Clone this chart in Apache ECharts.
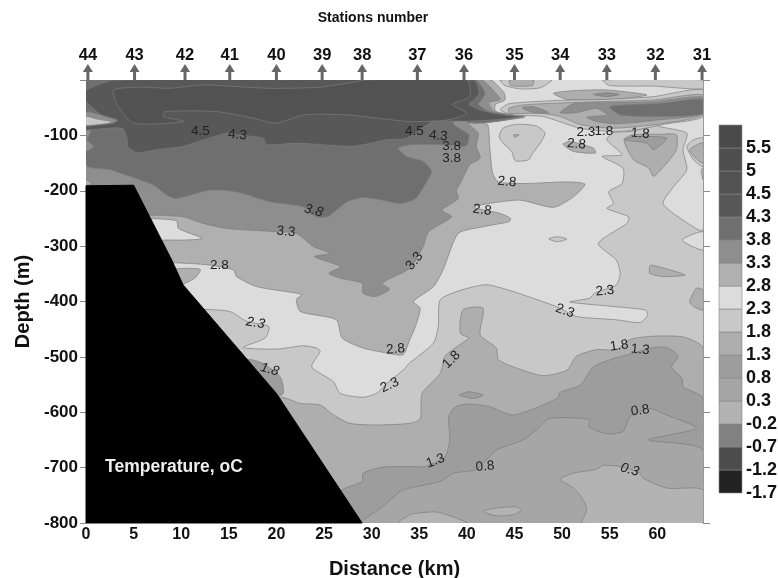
<!DOCTYPE html>
<html><head><meta charset="utf-8">
<style>html,body{margin:0;padding:0;background:#fff}#c{width:778px;height:578px}</style>
<script src="https://cdn.jsdelivr.net/npm/echarts@6/dist/echarts.min.js"></script>
</head><body><div id="c"></div>
<script>
// Legend, bottom to top: boundary labels and band greys
const legendLabels = ['-1.7','-1.2','-0.7','-0.2','0.3','0.8','1.3','1.8','2.3','2.8','3.3','3.8','4.3','4.5','5','5.5'];
const bandColors = ['#222222','#4c4c4c','#818181','#b3b3b3','#a6a6a6','#9d9d9d','#aeaeae','#c8c8c8','#dcdcdc','#b0b0b0','#8e8e8e','#6f6f6f','#585858','#525252','#4e4e4e','#4a4a4a'];

// Stations: [number, distance km]
const stationNumbers = [44,43,42,41,40,39,38,37,36,35,34,33,32,31];
const stationKm = [0.2,5.1,10.4,15.1,20,24.8,29,34.8,39.7,45,49.8,54.7,59.8,64.7];

// Contour regions, as [km, depth m]
const fieldAll = [[0,0],[64.8,0],[64.8,800],[0,800]];
const warm23 = [[0,0],[64.8,0],[64.8,50],[57.5,92],[55.4,95],[54.7,108],[56.3,135],[54.2,138],[56.4,159],[56.3,187],[54.9,202],[55.4,223],[54.7,232],[57,247],[56.8,259],[53.8,295],[55.7,325],[56.1,349],[55.7,370],[53.4,385],[52.9,394],[50.8,401],[58.7,415],[59,424],[58.2,438],[55.7,433],[51.5,427],[49.4,409],[42.3,370],[39.5,379],[37.2,397],[37,445],[36.5,475],[34,511],[33.3,524],[31.6,548],[30.5,566],[29.1,573],[26.7,566],[26,545],[23.7,518],[24.6,490],[24.2,484],[22.8,480],[20,486],[16.5,483],[18.8,466],[19.2,445],[16.9,436],[15.1,418],[12.3,414],[0,400]];
const warmRight = [[63.1,96],[60,82],[64.8,60],[64.8,271],[62.7,253],[60.6,223],[61.7,193],[63.1,162],[62.7,126]];
const warmTip = [[64.8,274],[62.6,289],[64.8,307]];
const cool13 = [[20.4,575],[22.5,584],[24.6,587],[26,605],[27.7,620],[30.5,623],[34,620],[35.1,612],[35.3,566],[37.2,530],[37.7,499],[39.5,475],[40.2,466],[39.3,457],[39.6,415],[41.7,412],[41.4,460],[43.1,484],[43.3,505],[45.2,520],[48,534],[50.5,524],[51.5,499],[53.6,487],[55.7,487],[57.1,469],[59.2,463],[62.7,464],[64.8,484],[64.8,800],[20,800]];
const cool08 = [[26.7,743],[29,725],[29.1,710],[31.2,699],[34,698],[35.6,698],[37.7,680],[38.2,650],[38.1,608],[38.8,590],[40.3,585],[42.4,590],[44.9,605],[49.5,575],[49.8,564],[51.9,551],[53.3,518],[55.4,503],[57.5,493],[59.6,483],[61,483],[62.2,499],[61.5,518],[62.6,539],[62.7,554],[64.8,575],[64.8,800],[26,800]];
const coolIsle = [[39.2,569],[40.2,563],[41.7,569],[40.7,575]];
const cool03 = [[64.8,668],[59.1,650],[64.1,629],[61,605],[59.1,593],[57.1,608],[56.8,620],[56.4,635],[54.7,639],[52.8,626],[52.9,613],[48.7,611],[47.3,632],[45.9,650],[43.1,668],[42.4,680],[40.9,704],[38.6,710],[37.2,725],[34,737],[33,743],[31.2,770],[29,800],[64.8,800]];
const cool02 = [[64.8,740],[61,737],[58.5,719],[58.2,710],[56.1,698],[54.3,696],[53.6,703],[51.2,710],[49.8,721],[51.2,737],[52.1,755],[52.6,776],[52.1,800],[64.8,800]];
const cool02Left = [[32.8,800],[34,785],[34.4,783],[36.8,780],[38.9,791],[40,800]];
const cool02Isle = [[41.7,779],[43.1,773],[45.2,771],[45.7,777],[44.9,785],[43.1,787]];
const slope18 = [[17,505],[18.6,512],[20.4,536],[20.7,566],[19,580],[16,530]];
const mid18a = [[43.4,102],[43.8,87],[45.2,80],[47.3,83],[48.2,96],[47.7,114],[46.8,135],[46.5,144],[45.1,146],[44.7,129],[43.8,114]];
const mid18aCore = [[44.9,99],[45.5,99],[45,103]];
const mid18b = [[48.6,287],[49.5,283],[50.5,287],[49.5,292]];
const mid13a = [[50.1,116],[50.8,111],[53.3,123],[53.5,132],[51.2,129]];
const mid13b = [[56.5,108],[57.5,99],[60.3,98],[62,99],[62,126],[61,150],[59.6,174],[59.1,159],[57.5,144]];
const mid08b = [[56.5,108],[57.8,102],[61,105],[59.6,126],[58.9,114]];
const edge18 = [[63.1,120],[63.8,108],[64.8,105],[64.8,156],[63.8,144]];
const edge13 = [[63.4,126],[64.5,114],[64.8,114],[64.8,150],[64,141]];
const edge18b = [[64.6,162],[64.8,159],[64.8,180]];
const side13a = [[59.2,337],[59.4,334],[62.9,352],[60.6,355],[59.2,349]];
const side13b = [[63.4,400],[64.1,376],[64.8,379],[64.8,415],[63.8,409]];
const top18 = [[43.5,0],[44,10],[45.6,16],[47.7,14],[48.9,0]];
const top13 = [[44.5,0],[44.6,10],[46.9,10],[47,0]];
const top18b = [[54.3,0],[55,10],[59.6,11],[64.8,16],[64.8,0]];
const band28 = [[0,0],[41,0],[41.4,75],[42.2,81],[42.4,120],[42.7,168],[43.3,184],[45.9,187],[50.5,184],[52.4,188],[51.2,211],[49.1,230],[45.6,217],[42.3,223],[40.7,230],[43.5,241],[44.6,250],[44.4,256],[41.7,265],[39.1,277],[37.5,343],[36.5,373],[34.4,400],[35.1,412],[34.6,445],[34,469],[33.3,496],[31.6,493],[29.1,484],[26.9,466],[26.3,433],[22.5,418],[22.1,396],[22.7,388],[22.1,385],[17.9,373],[15.8,355],[15.5,343],[12.9,334],[9,330],[0,330]];
const pocket23 = [[6,253],[9.5,254],[9.7,268],[12.2,286],[10.4,289],[8.3,289],[7,290]];
const pocket28 = [[9.5,341],[12,342],[11.4,358],[9.5,372],[9,350]];
const band33 = [[0,0],[40,0],[40.2,78],[41.2,96],[41,120],[41.4,141],[40.3,153],[39.3,187],[38.9,199],[39.1,214],[37.4,235],[38.4,247],[36,274],[35.4,301],[34,340],[31.1,367],[31.9,378],[30.4,391],[29.1,385],[29,367],[26.7,358],[25.5,349],[26.7,337],[24,319],[25.6,313],[23.9,301],[22.1,277],[20,274],[14.8,268],[12.3,259],[10.2,247],[6.7,244],[0,240]];
const band38 = [[0,0],[40,0],[38.6,78],[40.2,99],[39.9,119],[37.2,117],[34,117],[32.8,123],[33.7,138],[35.4,147],[36.3,165],[35.9,180],[34.6,214],[33,223],[31.2,217],[29.1,212],[27.4,220],[26.3,235],[25.3,247],[24.2,247],[22.8,229],[19.3,220],[15.8,202],[13,199],[9.5,214],[8.5,208],[7.1,190],[4.6,174],[2.5,162],[0,153]];
const wedge28 = [[42.5,0],[43.9,23],[44,36],[43,44],[43,56],[44.4,62],[46.1,66],[46,68],[40,75],[40,0]];
const wedge33 = [[41.6,0],[43,23],[43.5,35],[42.3,41],[42.8,56],[44.2,64],[45.9,66],[40,75],[40,0]];
const wedge38 = [[41,0],[41.9,23],[41.6,35],[41.2,44],[42.5,58],[45.9,66],[40,75],[40,0]];
const shore33 = [[0,58],[2,66],[3.3,74],[1,84],[0,86]];
const shore23 = [[0,66],[1.3,71],[2.9,76],[0,82]];
const shore33b = [[0,90],[0.5,93],[0.1,108],[0.8,120],[0,128]];
const shore28 = [[0,180],[0.6,188],[0,190]];
const band43 = [[3,0],[40.7,0],[41.3,23],[40.7,36],[40.2,44],[41.8,56],[44.2,64],[45.7,66],[43.5,71],[40.7,74],[36.5,75],[35.8,81],[33.7,105],[31.6,108],[29.1,117],[27.7,120],[22.1,114],[19,117],[18.6,105],[15.8,99],[14.8,96],[11.8,111],[10.2,120],[7.4,126],[5.3,131],[4.4,120],[4.3,105],[3.8,87],[0,90],[0,84],[2.9,78],[3.3,72],[1.5,62],[0,38],[0,19],[1.5,7]];
const band45 = [[2.9,18],[5.8,13],[8.8,15],[12.3,9],[19.3,15],[24.6,13],[28.4,3],[29.1,0],[40,0],[40.3,30],[38.5,44],[40,60],[38,72],[34,75],[27.4,63],[22.8,63],[20,78],[17.6,69],[13.7,57],[8.3,57],[8.1,66],[10.3,75],[5,78],[3.3,45]];
const stripeA = [[49.1,24],[51.5,19],[54.7,18],[58.9,27],[55.4,35],[50.5,35]];
const stripeACore = [[53.3,26],[54.7,23],[56,26],[54.7,30]];
const stripeB18 = [[43.5,54],[44.4,43],[49.5,37],[54.7,35],[59.6,30],[64.8,18],[64.8,66],[61,79],[57.5,91],[55.4,93],[51.9,87],[48,66],[44.9,63]];
const stripeB13 = [[44.4,51],[45.9,45],[50.5,41],[54,39],[59.6,36],[64.8,27],[64.8,63],[59.6,81],[55.4,87],[52,81],[49.8,66],[47.7,60],[44.5,60]];
const stripeB33a = [[45.8,50],[47,48],[48.6,59],[47,59]];
const stripeB33b = [[49.8,59],[51.2,43],[54.7,41],[59.6,39],[64.8,31],[64.8,61],[59.6,73],[55.7,79],[53.6,75],[52.6,67],[54.7,63],[53.6,51],[51.5,59]];
const stripeB38 = [[55,48],[60.3,42],[64.8,35],[64.8,61],[60.3,66],[56.1,63]];
const seabed = [[0,191],[5,190],[9,325],[10.2,370],[20,566],[29,800],[0,800]];

// Painter's order: [lower boundary of band, points]
const regions = [
 ['1.8',fieldAll],['2.3',warm23],['2.3',warmRight],['2.3',warmTip],
 ['1.3',cool13],['0.8',cool08],['0.8',coolIsle],['0.3',cool03],['-0.2',cool02],['-0.2',cool02Left],['-0.2',cool02Isle],
 ['0.8',slope18],['1.8',mid18a],['1.3',mid18aCore],['1.8',mid18b],['1.3',mid13a],['1.3',mid13b],['0.8',mid08b],
 ['1.8',edge18],['1.3',edge13],['1.8',edge18b],['1.3',side13a],['1.3',side13b],
 ['1.8',top18],['1.3',top13],['1.8',top18b],
 ['2.8',band28],['2.3',pocket23],['2.8',pocket28],['3.3',band33],['3.8',band38],
 ['2.8',wedge28],['3.3',wedge33],['3.8',wedge38],
 ['3.3',shore33],['1.8',shore23],['3.3',shore33b],['2.8',shore28],
 ['4.3',band43],['4.5',band45],
 ['1.3',stripeA],['3.3',stripeACore],['1.8',stripeB18],['1.3',stripeB13],['3.3',stripeB33a],['3.3',stripeB33b],['3.8',stripeB38]
];

// Contour labels: [km, depth m, text, rotation deg, italic]
const contourLabels = [
 [12,92,'4.5',0,0],[15.9,99,'4.3',-5,0],[23.9,236,'3.8',-15,1],[21,274,'3.3',-5,0],[14,334,'2.8',0,0],
 [17.8,439,'2.3',-10,1],[19.3,523,'1.8',-15,1],[32.5,486,'2.8',5,0],[31.9,551,'2.3',25,0],[38.4,505,'1.8',45,0],
 [34.5,327,'3.3',50,0],[34.5,92,'4.5',0,0],[37,101,'4.3',-5,0],[38.4,119,'3.8',0,0],[38.4,141,'3.8',0,0],
 [44.2,184,'2.8',-5,0],[41.6,235,'2.8',-8,0],[52.5,94,'2.3',0,0],[54.4,92,'1.8',0,0],[58.2,97,'1.8',-5,0],
 [51.5,116,'2.8',-5,0],[54.5,381,'2.3',5,0],[50.3,417,'2.3',-20,0],[56,480,'1.8',8,0],[58.2,487,'1.3',-5,0],
 [58.2,597,'0.8',8,0],[36.7,688,'1.3',20,0],[41.9,698,'0.8',5,0],[57.1,704,'0.3',-15,1]
];
const noteText = 'Temperature, oC';
const FONT = '"Liberation Sans", Arial, sans-serif';

const chart = echarts.init(document.getElementById('c'), null, {renderer:'canvas'});
const colorOf = l => bandColors[legendLabels.indexOf(l)];

const option = {
 animation:false,
 backgroundColor:'#fff',
 title:{text:'Stations number',left:368,top:6,textAlign:'center',
   textStyle:{fontFamily:FONT,fontWeight:'bold',fontSize:14,lineHeight:14,color:'#111'}},
 grid:[{left:86,top:80,width:617,height:443,outerBoundsMode:'none'},{left:719,top:125,width:23,height:368,outerBoundsMode:'none'}],
 xAxis:[
  {gridIndex:0,type:'value',min:0,max:64.8,interval:5,name:'Distance (km)',nameLocation:'middle',nameGap:36,
   nameTextStyle:{fontFamily:FONT,fontWeight:'bold',fontSize:20,color:'#111'},
   axisLine:{lineStyle:{color:'#999'}},axisTick:{show:false},splitLine:{show:false},
   axisLabel:{margin:4,fontFamily:FONT,fontWeight:'bold',fontSize:16,color:'#111',showMaxLabel:false,
     formatter:v=>v%5===0?String(v):''}},
  {gridIndex:1,type:'value',min:0,max:1,show:false}
 ],
 yAxis:[
  {gridIndex:0,type:'value',min:-800,max:0,interval:100,name:'Depth (m)',nameLocation:'middle',nameGap:52,nameRotate:90,
   nameTextStyle:{fontFamily:FONT,fontWeight:'bold',fontSize:20,color:'#111'},
   axisLine:{show:true,lineStyle:{color:'#999'}},axisTick:{show:true,length:6,lineStyle:{color:'#888'}},splitLine:{show:false},
   axisLabel:{margin:8,fontFamily:FONT,fontWeight:'bold',fontSize:17,color:'#111',formatter:v=>v===0?'':String(v)}},
  {gridIndex:0,type:'value',min:-800,max:0,interval:100,position:'right',
   axisLine:{show:true,lineStyle:{color:'#999'}},axisTick:{show:true,length:7,lineStyle:{color:'#888'}},
   axisLabel:{show:false},splitLine:{show:false}},
  {gridIndex:1,type:'value',min:0,max:16,interval:1,position:'right',
   axisLine:{show:false},axisTick:{show:false},splitLine:{show:false},
   axisLabel:{margin:4,fontFamily:FONT,fontWeight:'bold',fontSize:18,color:'#111',
     formatter:v=>legendLabels[v]||''}}
 ],
 series:[
  {type:'custom',xAxisIndex:0,yAxisIndex:0,silent:true,z:2,clip:true,
   data:regions.map((r,i)=>[0,-100,i]),
   encode:{x:0,y:1},
   renderItem:(p,api)=>{
     const r=regions[api.value(2)];
     const pts=r[1].map(q=>api.coord([q[0],-q[1]]));
     return {type:'polygon',shape:{points:pts,smooth:0.22},
       style:{fill:colorOf(r[0]),stroke:'#7c7c7c',lineWidth:0.7},
       clipPath:{type:'rect',shape:{x:p.coordSys.x,y:p.coordSys.y,width:p.coordSys.width,height:p.coordSys.height}}};
   }},
  {type:'custom',xAxisIndex:0,yAxisIndex:0,silent:true,z:3,clip:false,
   data:[[0,-100]],encode:{x:0,y:1},
   renderItem:(p,api)=>({type:'polygon',shape:{points:seabed.map(q=>api.coord([q[0],-q[1]]))},style:{fill:'#000',stroke:'#000'}})},
  {type:'custom',xAxisIndex:0,yAxisIndex:0,silent:true,z:4,clip:false,
   data:contourLabels.map(l=>[l[0],-l[1]]),
   encode:{x:0,y:1},
   renderItem:(p,api)=>{
     const l=contourLabels[p.dataIndex];
     const c=api.coord([l[0],-l[1]]);
     return {type:'text',x:c[0],y:c[1],rotation:l[3]*Math.PI/180,
       style:{text:l[2],fill:'#222',font:(l[4]?'italic ':'')+'13.5px '+FONT,align:'center',verticalAlign:'middle'}};
   }},
  {type:'custom',xAxisIndex:0,yAxisIndex:0,silent:true,z:5,clip:false,
   data:[[2,-700]],encode:{x:0,y:1},
   renderItem:(p,api)=>{
     const c=api.coord([2,-700]);
     return {type:'text',x:c[0],y:c[1],style:{text:noteText,fill:'#eee',font:'bold 17.5px '+FONT,align:'left',verticalAlign:'middle'}};
   }},
  {type:'custom',xAxisIndex:0,yAxisIndex:0,silent:true,z:6,clip:false,
   data:stationKm.map(k=>[k,0]),encode:{x:0,y:1},
   renderItem:(p,api)=>{
     const c=api.coord([stationKm[p.dataIndex],0]);
     const x=c[0],y=c[1];
     return {type:'group',children:[
       {type:'polygon',shape:{points:[[x,y-16],[x+5,y-8],[x+1.5,y-8],[x+1.5,y],[x-1.5,y],[x-1.5,y-8],[x-5,y-8]]},style:{fill:'#666'}},
       {type:'text',x:x,y:y-25,style:{text:String(stationNumbers[p.dataIndex]),fill:'#111',font:'bold 16.5px '+FONT,align:'center',verticalAlign:'middle'}}
     ]};
   }},
  {type:'custom',xAxisIndex:1,yAxisIndex:2,silent:true,z:2,
   data:bandColors.map((c,i)=>[0,i]),encode:{x:0,y:1},
   renderItem:(p,api)=>{
     const i=p.dataIndex;
     const a=api.coord([0,i+1]),b=api.coord([1,i]);
     return {type:'rect',shape:{x:a[0],y:a[1],width:b[0]-a[0],height:b[1]-a[1]},style:{fill:bandColors[i],stroke:'#888',lineWidth:0.6}};
   }}
 ]
};
chart.setOption(option);
</script></body></html>
